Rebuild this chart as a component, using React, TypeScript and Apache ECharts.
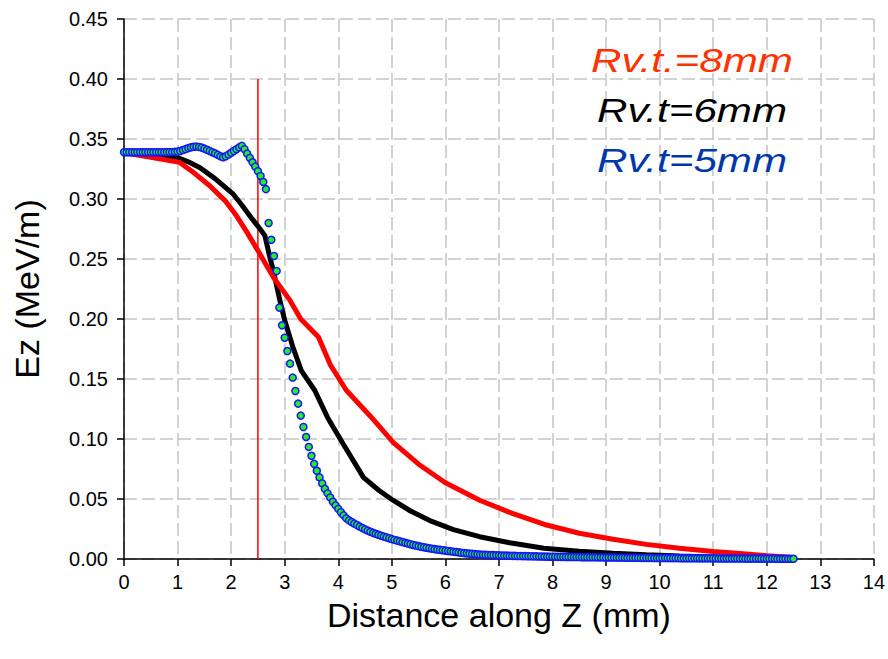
import React, { useEffect, useRef } from "react";
import * as echarts from "echarts";

// ---- data ----
const X_TICKS_MAX = 14;
const Y_MAX = 0.45;

// Rv.t.=8mm (red line) [z, Ez]
const RED_8MM: [number, number][] = [
  [0, 0.3386], [0.5, 0.3348], [1.04, 0.3305], [1.3, 0.322], [1.6, 0.311], [1.9, 0.298],
  [2.1, 0.286], [2.3, 0.272], [2.5, 0.257], [2.8, 0.234], [3.1, 0.2155], [3.3, 0.2],
  [3.63, 0.185], [3.85, 0.162], [4.15, 0.1406], [4.6, 0.119], [5.03, 0.097], [5.5, 0.079],
  [6.0, 0.0635], [6.64, 0.049], [7.25, 0.038], [7.89, 0.0283], [8.5, 0.0215], [9.13, 0.0164],
  [9.75, 0.0122], [10.37, 0.0089], [11.0, 0.0063], [11.62, 0.0042], [12.0, 0.0028],
  [12.43, 0.0014], [12.5, 0.0012],
];

// Rv.t=6mm (black line) [z, Ez]
const BLACK_6MM: [number, number][] = [
  [0, 0.339], [0.5, 0.3378], [1.0, 0.3345], [1.2, 0.331], [1.42, 0.326], [1.7, 0.317],
  [2.04, 0.304], [2.2, 0.295], [2.4, 0.283], [2.54, 0.275], [2.63, 0.2695], [2.72, 0.252],
  [2.79, 0.24], [2.91, 0.2155], [3.0, 0.199], [3.15, 0.177], [3.31, 0.157], [3.56, 0.1406],
  [3.8, 0.118], [4.09, 0.096], [4.47, 0.068], [4.75, 0.0575], [5.02, 0.049], [5.35, 0.04],
  [5.71, 0.032], [6.15, 0.0245], [6.64, 0.0186], [7.2, 0.0135], [7.84, 0.0089], [8.5, 0.0065],
  [9.13, 0.0047], [9.75, 0.0035], [10.37, 0.0025], [11.0, 0.0017], [11.6, 0.0011],
  [12.2, 0.0006], [12.5, 0.0004],
];

// Rv.t=5mm (dotted series), sampled every BLUE_STEP mm starting at z = 0
const BLUE_STEP = 0.05;
const BLUE_5MM: number[] = [
  0.3390, 0.3390, 0.3390, 0.3390, 0.3390, 0.3390, 0.3390, 0.3390, 0.3390, 0.3390,
  0.3390, 0.3390, 0.3390, 0.3390, 0.3390, 0.3390, 0.3391, 0.3391, 0.3392, 0.3393,
  0.3395, 0.3400, 0.3408, 0.3416, 0.3424, 0.3430, 0.3435, 0.3437, 0.3434, 0.3428,
  0.3420, 0.3410, 0.3400, 0.3390, 0.3380, 0.3368, 0.3356, 0.3348, 0.3356, 0.3370,
  0.3385, 0.3400, 0.3415, 0.3430, 0.3443, 0.3415, 0.3378, 0.3342, 0.3306, 0.3270,
  0.3232, 0.3192, 0.3142, 0.3082, 0.2800, 0.2660, 0.2525, 0.2400, 0.2095, 0.1947,
  0.1844, 0.1733, 0.1628, 0.1512, 0.1400, 0.1295, 0.1195, 0.1100, 0.1017, 0.0934,
  0.0860, 0.0793, 0.0735, 0.0680, 0.0630, 0.0585, 0.0547, 0.0513, 0.0477, 0.0447,
  0.0418, 0.0390, 0.0364, 0.0339, 0.0322, 0.0308, 0.0295, 0.0283, 0.0270, 0.0258,
  0.0247, 0.0237, 0.0227, 0.0218, 0.0210, 0.0202, 0.0194, 0.0187, 0.0180, 0.0173,
  0.0166, 0.0159, 0.0153, 0.0147, 0.0141, 0.0135, 0.0129, 0.0123, 0.0117, 0.0112,
  0.0107, 0.0102, 0.0098, 0.0094, 0.0090, 0.0086, 0.0082, 0.0079, 0.0076, 0.0073,
  0.0070, 0.0067, 0.0064, 0.0061, 0.0058, 0.0055, 0.0052, 0.0049, 0.0047, 0.0045,
  0.0043, 0.0041, 0.0039, 0.0037, 0.0036, 0.0035, 0.0034, 0.0033, 0.0032, 0.0031,
  0.0030, 0.0029, 0.0028, 0.0028, 0.0027, 0.0026, 0.0026, 0.0025, 0.0025, 0.0024,
  0.0024, 0.0023, 0.0023, 0.0022, 0.0022, 0.0021, 0.0021, 0.0020, 0.0020, 0.0019,
  0.0019, 0.0019, 0.0018, 0.0018, 0.0018, 0.0017, 0.0017, 0.0017, 0.0016, 0.0016,
  0.0016, 0.0015, 0.0015, 0.0015, 0.0014, 0.0014, 0.0014, 0.0013, 0.0013, 0.0013,
  0.0012, 0.0012, 0.0012, 0.0012, 0.0011, 0.0011, 0.0011, 0.0011, 0.0010, 0.0010,
  0.0010, 0.0010, 0.0010, 0.0009, 0.0009, 0.0009, 0.0009, 0.0009, 0.0008, 0.0008,
  0.0008, 0.0008, 0.0008, 0.0007, 0.0007, 0.0007, 0.0007, 0.0007, 0.0006, 0.0006,
  0.0006, 0.0006, 0.0006, 0.0006, 0.0005, 0.0005, 0.0005, 0.0005, 0.0005, 0.0005,
  0.0005, 0.0005, 0.0004, 0.0004, 0.0004, 0.0004, 0.0004, 0.0004, 0.0004, 0.0004,
  0.0004, 0.0004, 0.0003, 0.0003, 0.0003, 0.0003, 0.0003, 0.0003, 0.0003, 0.0003,
  0.0003, 0.0003, 0.0003, 0.0003, 0.0002, 0.0002, 0.0002, 0.0002, 0.0002, 0.0002,
  0.0002,
];

// vertical marker line at z = 2.5 mm
const MARKER_LINE: [number, number][] = [
  [2.5, 0],
  [2.5, 0.4],
];

const LEGEND_LABELS = ["Rv.t.=8mm", "Rv.t=6mm", "Rv.t=5mm"];
const LEGEND_COLORS = ["#FF3300", "#000000", "#0038A8"];

const FONT = '"Liberation Sans", Arial, sans-serif';

export default function App() {
  const ref = useRef<HTMLDivElement>(null);

  useEffect(() => {
    document.body.style.margin = "0";
    if (!ref.current) return;
    const chart = echarts.init(ref.current, undefined, { renderer: "svg" });

    const blueData = BLUE_5MM.map((v, i) => [+(i * BLUE_STEP).toFixed(2), v]);

    const legendY = [60, 110, 160];

    chart.setOption({
      animation: false,
      backgroundColor: "#ffffff",
      grid: { left: 124, right: 13, top: 19, bottom: 100, containLabel: false },
      xAxis: {
        type: "value",
        min: 0,
        max: X_TICKS_MAX,
        interval: 1,
        name: "Distance along Z (mm)",
        nameLocation: "middle",
        nameGap: 39,
        nameTextStyle: { fontFamily: FONT, fontSize: 34, color: "#000" },
        axisLine: { show: true, onZero: false, lineStyle: { color: "#000", width: 1.5 } },
        axisTick: { show: true, inside: false, length: 7, lineStyle: { color: "#000", width: 1.5 } },
        axisLabel: { fontFamily: FONT, fontSize: 20, color: "#000", margin: 13 },
        splitLine: { show: true, lineStyle: { color: "#c4c4c4", width: 1.5, type: [13, 5] } },
      },
      yAxis: {
        type: "value",
        min: 0,
        max: Y_MAX,
        interval: 0.05,
        name: "Ez (MeV/m)",
        nameLocation: "middle",
        nameGap: 80,
        nameTextStyle: { fontFamily: FONT, fontSize: 34, color: "#000" },
        axisLine: { show: true, onZero: false, lineStyle: { color: "#000", width: 1.5 } },
        axisTick: { show: true, inside: false, length: 7, lineStyle: { color: "#000", width: 1.5 } },
        axisLabel: {
          fontFamily: FONT,
          fontSize: 20,
          color: "#000",
          margin: 16,
          formatter: (v: number) => v.toFixed(2),
        },
        splitLine: { show: true, lineStyle: { color: "#c4c4c4", width: 1.5, type: [13, 5] } },
      },
      series: [
        {
          name: "marker",
          type: "line",
          data: MARKER_LINE,
          showSymbol: false,
          lineStyle: { color: "#FF0000", width: 1.5 },
          z: 1,
        },
        {
          name: LEGEND_LABELS[1],
          type: "line",
          data: BLACK_6MM,
          showSymbol: false,
          lineStyle: { color: "#000000", width: 5 },
          z: 2,
        },
        {
          name: LEGEND_LABELS[0],
          type: "line",
          data: RED_8MM,
          showSymbol: false,
          lineStyle: { color: "#FF0000", width: 5 },
          z: 3,
        },
        {
          name: LEGEND_LABELS[2],
          type: "scatter",
          data: blueData,
          symbol: "circle",
          symbolSize: 7,
          itemStyle: { color: "#22EE22", borderColor: "#1515FF", borderWidth: 1.5, opacity: 1 },
          z: 4,
        },
      ],
      graphic: LEGEND_LABELS.map((t, i) => ({
        type: "text",
        x: 692,
        y: legendY[i],
        scaleX: 1.24,
        z: 100,
        style: {
          text: t,
          fill: LEGEND_COLORS[i],
          fontFamily: FONT,
          fontSize: 34,
          fontStyle: "italic",
          align: "center",
          verticalAlign: "middle",
        },
      })),
    });

    return () => {
      chart.dispose();
    };
  }, []);

  return (
    <div
      ref={ref}
      style={{ position: "fixed", left: 0, top: 0, width: 888, height: 659, background: "#fff" }}
    />
  );
}
